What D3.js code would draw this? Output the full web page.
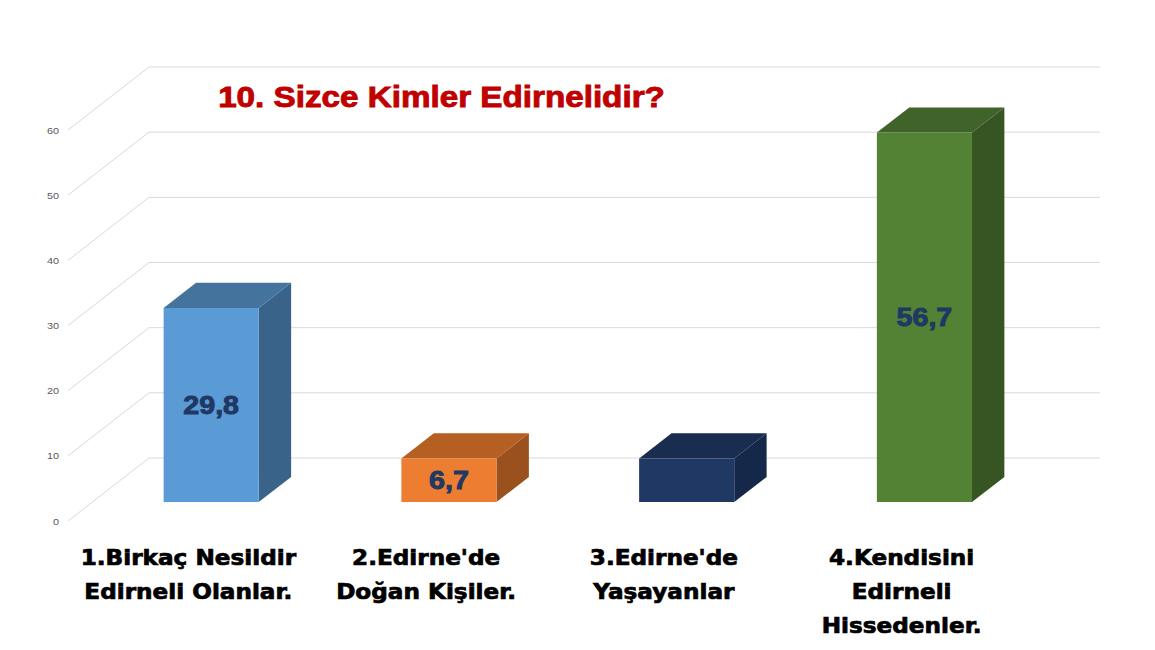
<!DOCTYPE html>
<html>
<head>
<meta charset="utf-8">
<script src="https://cdn.jsdelivr.net/npm/d3@7"></script>
<style>
  html, body { margin: 0; padding: 0; background: #ffffff; }
  svg { display: block; }
</style>
</head>
<body>
<svg id="chart" width="1155" height="650"></svg>
<script>
// ---- data ----
const categories = ["c1", "c2", "c3", "c4"];
const categoryLines = [
  ["1.Birkaç Nesildir", "Edirneli Olanlar."],
  ["2.Edirne'de", "Doğan Kişiler."],
  ["3.Edirne'de", "Yaşayanlar"],
  ["4.Kendisini", "Edirneli", "Hissedenler."]
];
const values = [29.8, 6.7, 6.7, 56.7];
const valueLabels = ["29,8", "6,7", "6,7", "56,7"];
const tickValues = [0, 10, 20, 30, 40, 50, 60];
const title = "10. Sizce Kimler Edirnelidir?";

const frontColors = ["#5b9bd5", "#ed7d31", "#203864", "#548235"];
const topColors   = ["#44739e", "#b65f22", "#1a2d50", "#3f6328"];
const sideColors  = ["#3a6389", "#9a511e", "#16284a", "#365523"];

// ---- layout ----
const svg = d3.select("#chart");
const depthDX = 81, depthDY = -63;   // full depth offset of the floor
const x = d3.scaleBand().domain(categories).range([68, 1019]).paddingInner(0.6).paddingOuter(0.3);
const y = d3.scaleLinear().domain([0, 60]).range([521, 130]);
const proj = (px, v, z) => [px + z * depthDX, y(v) + z * depthDY];

// gridlines: diagonal side wall + back wall
const grid = svg.append("g").attr("stroke", "#d9d9d9").attr("stroke-width", 1).attr("fill", "none");
tickValues.forEach(t => {
  const a = proj(68, t, 0), b = proj(68, t, 1), c = proj(1019, t, 1);
  grid.append("path").attr("d", `M${a[0]},${a[1]}L${b[0]},${b[1]}L${c[0]},${c[1]}`);
});

// tick labels
svg.append("g").selectAll("text").data(tickValues).join("text")
  .attr("transform", d => `translate(59,${y(d) + 3.5}) scale(1.146,1)`)
  .attr("text-anchor", "end")
  .attr("font-family", "Liberation Sans, Arial, sans-serif")
  .attr("font-size", 9.5)
  .attr("fill", "#595959")
  .text(d => d);

// bars
const z0 = 0.3, z1 = 0.7;
const bars = svg.append("g");
categories.forEach((c, i) => {
  const x0 = x(c), x1 = x(c) + x.bandwidth(), v = values[i];
  const p = (px, vv, z) => proj(px, vv, z).join(",");
  const g = bars.append("g");
  // side face
  g.append("polygon")
    .attr("points", [p(x1, 0, z0), p(x1, v, z0), p(x1, v, z1), p(x1, 0, z1)].join(" "))
    .attr("fill", sideColors[i]);
  // top face
  g.append("polygon")
    .attr("points", [p(x0, v, z0), p(x1, v, z0), p(x1, v, z1), p(x0, v, z1)].join(" "))
    .attr("fill", topColors[i]);
  // front face
  g.append("polygon")
    .attr("points", [p(x0, 0, z0), p(x1, 0, z0), p(x1, v, z0), p(x0, v, z0)].join(" "))
    .attr("fill", frontColors[i]);
  // value label
  const cx = proj(x0 + x.bandwidth() / 2, 0, z0)[0];
  const cy = (proj(x0, 0, z0)[1] + proj(x0, v, z0)[1]) / 2;
  g.append("text")
    .attr("transform", `translate(${cx},${cy + 9}) scale(1.146,1)`)
    .attr("text-anchor", "middle")
    .attr("font-family", "Liberation Sans, Arial, sans-serif")
    .attr("font-weight", "bold")
    .attr("font-size", 25)
    .attr("fill", "#1f3864")
    .attr("stroke", "#1f3864")
    .attr("stroke-width", 0.9)
    .text(valueLabels[i]);
});

// category labels
const catG = svg.append("g");
categories.forEach((c, i) => {
  const cx = x(c) + x.bandwidth() / 2 + 1.5;
  categoryLines[i].forEach((line, j) => {
    catG.append("text")
      .attr("transform", `translate(${cx},${565 + j * 34}) scale(1.13,1)`)
      .attr("text-anchor", "middle")
      .attr("font-family", "DejaVu Sans, sans-serif")
      .attr("font-weight", "bold")
      .attr("font-size", 20.5)
      .attr("fill", "#000000")
      .attr("stroke", "#000000")
      .attr("stroke-width", 0.7)
      .text(line);
  });
});

// title
svg.append("text")
  .attr("transform", "translate(441.5,107) scale(1.146,1)")
  .attr("text-anchor", "middle")
  .attr("font-family", "Liberation Sans, Arial, sans-serif")
  .attr("font-weight", "bold")
  .attr("font-size", 29)
  .attr("fill", "#c00000")
  .attr("stroke", "#c00000")
  .attr("stroke-width", 0.9)
  .text(title);
</script>
</body>
</html>
